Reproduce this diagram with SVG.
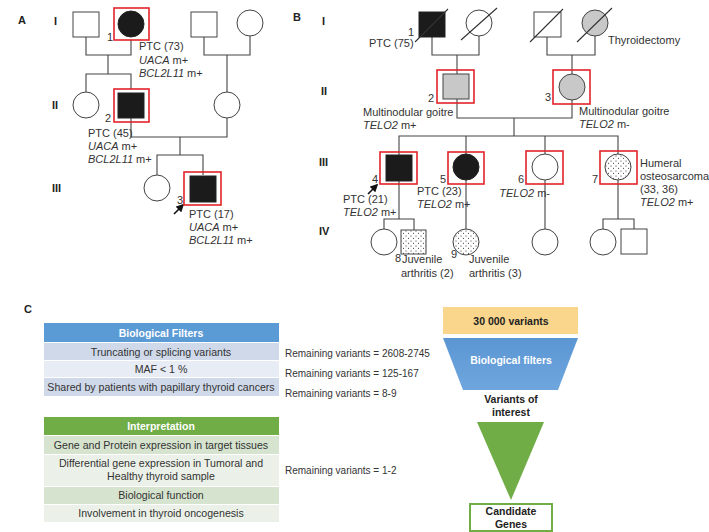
<svg xmlns="http://www.w3.org/2000/svg" width="709" height="532" viewBox="0 0 709 532">
<defs>
<pattern id="dots" width="5" height="5" patternUnits="userSpaceOnUse">
<rect width="5" height="5" fill="#fff"/>
<circle cx="1" cy="1" r="0.55" fill="#222"/>
<circle cx="3.5" cy="3.2" r="0.55" fill="#222"/>
</pattern>
<linearGradient id="blueg" x1="0" y1="0" x2="0" y2="1">
<stop offset="0" stop-color="#5b96d3"/>
<stop offset="1" stop-color="#6fa6de"/>
</linearGradient>
<marker id="arr" viewBox="0 0 10 10" refX="8" refY="5" markerWidth="5" markerHeight="5" orient="auto">
<path d="M0,0 L10,5 L0,10 z" fill="#111"/>
</marker>
</defs>
<style>
.t{font-family:"Liberation Sans",Arial,sans-serif;font-size:11px;fill:#333}
.i{font-style:italic}
.b{font-family:"Liberation Sans",Arial,sans-serif;font-weight:bold;font-size:11px;fill:#222}
.c{font-family:"Liberation Sans",Arial,sans-serif;font-size:10px;fill:#333}
.cm{font-family:"Liberation Sans",Arial,sans-serif;font-size:10.6px;fill:#333;text-anchor:middle}
.hw{font-family:"Liberation Sans",Arial,sans-serif;font-size:10.5px;font-weight:bold;fill:#fff;text-anchor:middle}
.bk{font-family:"Liberation Sans",Arial,sans-serif;font-size:10.5px;font-weight:bold;fill:#222;text-anchor:middle}
.ln{stroke:#444;stroke-width:1.1;fill:none}
.sym{stroke:#444;stroke-width:1;fill:#fff}
.aff{stroke:#222;stroke-width:1;fill:#1b1b1b}
.gry{stroke:#444;stroke-width:1;fill:#c8c8c8}
.dot{stroke:#444;stroke-width:1;fill:url(#dots)}
.red{stroke:#e2242b;stroke-width:1.6;fill:none}
.sl{stroke:#333;stroke-width:1.1}
</style>
<rect width="709" height="532" fill="#fff"/>

<!-- labels -->
<text class="b" x="18" y="24" font-size="12">A</text>
<text class="b" x="54" y="25">I</text>
<text class="b" x="52" y="109">II</text>
<text class="b" x="52" y="192">III</text>
<text class="b" x="293" y="21" font-size="12">B</text>
<text class="b" x="322" y="25">I</text>
<text class="b" x="321" y="95">II</text>
<text class="b" x="319" y="166">III</text>
<text class="b" x="319" y="235">IV</text>
<text class="b" x="24" y="313" font-size="12">C</text>

<g id="connectors">
<!-- A -->
<path class="ln" d="M86,37V55H131V40M108,55V74M86,92V74H131V89"/>
<path class="ln" d="M204,37V55H250V36M227,55V92"/>
<path class="ln" d="M131,118V137H227V118M180,137V155M157,175V155H203V175"/>
<!-- B -->
<path class="ln" d="M432,37V55H479V36M457,55V74"/>
<path class="ln" d="M547,37V55H595V36M572,55V74"/>
<path class="ln" d="M457,99V118H572V100M514,118V136M399,155V136H618V154M466,136V154M545,136V154"/>
<path class="ln" d="M399,181V219M384,229V219H414V230"/>
<path class="ln" d="M466,180V229M545,180V229"/>
<path class="ln" d="M618,180V219M603,229V219H634V229"/>
<!-- proband arrows -->
<line x1="174" y1="214" x2="183" y2="205" stroke="#111" stroke-width="1.6" marker-end="url(#arr)"/>
<line x1="368" y1="194" x2="377" y2="185" stroke="#111" stroke-width="1.6" marker-end="url(#arr)"/>
</g>

<!-- Panel A nodes -->
<g id="A-I1"><rect class="sym" x="73" y="12" width="26" height="25"/></g>
<g id="A-I2"><rect class="red" x="114" y="8" width="35" height="32"/><circle class="aff" cx="131" cy="24" r="13"/>
<text class="t" x="107" y="41">1</text>
<text class="t" x="139" y="50">PTC (73)</text>
<text class="t" x="139" y="63.5"><tspan class="i">UACA</tspan> m+</text>
<text class="t" x="139" y="77"><tspan class="i">BCL2L11</tspan> m+</text></g>
<g id="A-I3"><rect class="sym" x="191" y="12" width="26" height="25"/></g>
<g id="A-I4"><circle class="sym" cx="250" cy="23" r="13"/></g>
<g id="A-II1"><circle class="sym" cx="86" cy="105" r="13"/></g>
<g id="A-II2"><rect class="red" x="114" y="89" width="35" height="33"/><rect class="aff" x="118" y="93" width="26" height="25"/>
<text class="t" x="105" y="122">2</text>
<text class="t" x="88" y="137">PTC (45)</text>
<text class="t" x="88" y="150"><tspan class="i">UACA</tspan> m+</text>
<text class="t" x="88" y="163"><tspan class="i">BCL2L11</tspan> m+</text></g>
<g id="A-II3"><circle class="sym" cx="227" cy="105" r="13"/></g>
<g id="A-III1"><circle class="sym" cx="157" cy="188" r="13"/></g>
<g id="A-III2"><rect class="red" x="184" y="172" width="37" height="33"/><rect class="aff" x="190" y="176" width="26" height="26"/>
<text class="t" x="177" y="204">3</text>
<text class="t" x="189" y="218">PTC (17)</text>
<text class="t" x="189" y="231"><tspan class="i">UACA</tspan> m+</text>
<text class="t" x="189" y="244"><tspan class="i">BCL2L11</tspan> m+</text></g>

<!-- Panel B nodes -->
<g id="B-I1"><rect class="aff" x="419" y="12" width="26" height="25"/><line class="sl" x1="415" y1="42" x2="448" y2="9"/>
<text class="t" x="408" y="36">1</text>
<text class="t" x="369" y="47">PTC (75)</text></g>
<g id="B-I2"><circle class="sym" cx="479" cy="23" r="13"/><line class="sl" x1="461" y1="40" x2="497" y2="8"/></g>
<g id="B-I3"><rect class="sym" x="534" y="12" width="27" height="25"/><line class="sl" x1="530" y1="42" x2="563" y2="9"/></g>
<g id="B-I4"><circle class="gry" cx="595" cy="23" r="13"/><line class="sl" x1="577" y1="42" x2="612" y2="8"/>
<text class="t" x="608" y="44">Thyroidectomy</text></g>
<g id="B-II2"><rect class="red" x="437" y="70" width="37" height="33"/><rect class="gry" x="443" y="74" width="26" height="25"/>
<text class="t" x="428" y="102">2</text>
<text class="t" x="363" y="116">Multinodular goitre</text>
<text class="t" x="363" y="129"><tspan class="i">TELO2</tspan> m+</text></g>
<g id="B-II3"><rect class="red" x="553" y="70" width="37" height="34"/><circle class="gry" cx="572" cy="87" r="13"/>
<text class="t" x="545" y="101">3</text>
<text class="t" x="579" y="115">Multinodular goitre</text>
<text class="t" x="579" y="128"><tspan class="i">TELO2</tspan> m-</text></g>
<g id="B-III4"><rect class="red" x="380" y="152" width="37" height="32"/><rect class="aff" x="386" y="155" width="26" height="26"/>
<text class="t" x="372" y="183">4</text>
<text class="t" x="343" y="203">PTC (21)</text>
<text class="t" x="343" y="216"><tspan class="i">TELO2</tspan> m+</text></g>
<g id="B-III5"><rect class="red" x="448" y="152" width="36" height="32"/><circle class="aff" cx="466" cy="167" r="13"/>
<text class="t" x="440" y="183">5</text>
<text class="t" x="417" y="195">PTC (23)</text>
<text class="t" x="417" y="208"><tspan class="i">TELO2</tspan> m+</text></g>
<g id="B-III6"><rect class="red" x="526" y="151" width="37" height="33"/><circle class="sym" cx="545" cy="167" r="13"/>
<text class="t" x="518" y="183">6</text>
<text class="t" x="550" y="197" text-anchor="end"><tspan class="i">TELO2</tspan> m-</text></g>
<g id="B-III7"><rect class="red" x="600" y="151" width="37" height="33"/><circle class="dot" cx="618" cy="167" r="13"/>
<text class="t" x="592" y="183">7</text>
<text class="t" x="640" y="167">Humeral</text>
<text class="t" x="640" y="180">osteosarcoma</text>
<text class="t" x="640" y="193">(33, 36)</text>
<text class="t" x="640" y="206"><tspan class="i">TELO2</tspan> m+</text></g>
<g id="B-IV1"><circle class="sym" cx="384" cy="242" r="13"/></g>
<g id="B-IV8"><rect class="dot" x="401" y="230" width="25" height="24"/>
<text class="t" x="395" y="262">8</text>
<text class="t" x="402" y="263">Juvenile</text>
<text class="t" x="401" y="277">arthritis (2)</text></g>
<g id="B-IV9"><circle class="dot" cx="466" cy="242" r="13"/>
<text class="t" x="451" y="258">9</text>
<text class="t" x="469" y="263">Juvenile</text>
<text class="t" x="469" y="277">arthritis (3)</text></g>
<g id="B-IV10"><circle class="sym" cx="545" cy="242" r="13"/></g>
<g id="B-IV11"><circle class="sym" cx="603" cy="242" r="13"/></g>
<g id="B-IV12"><rect class="sym" x="621" y="229" width="26" height="25"/></g>

<!-- Panel C: filter table -->
<g id="filters-table">
<rect x="44" y="323" width="235" height="19" fill="#5b9bd5"/>
<text class="hw" x="161" y="337">Biological Filters</text>
<rect x="44" y="343" width="235" height="17" fill="#cfd9ea"/>
<text class="cm" x="161" y="355.5">Truncating or splicing variants</text>
<rect x="44" y="361" width="235" height="16" fill="#e8edf5"/>
<text class="cm" x="161" y="372.5">MAF &lt; 1 %</text>
<rect x="44" y="378" width="235" height="18" fill="#cfd9ea"/>
<text class="cm" x="161" y="390.5">Shared by patients with papillary thyroid cancers</text>
</g>
<g id="interp-table">
<rect x="44" y="417" width="235" height="18" fill="#70ad47"/>
<text class="hw" x="161" y="430">Interpretation</text>
<rect x="44" y="436" width="235" height="18" fill="#d6e4cf"/>
<text class="cm" x="161" y="448.5">Gene and Protein expression in target tissues</text>
<rect x="44" y="455" width="235" height="31" fill="#ebf1e8"/>
<text class="cm" x="161" y="466.5">Differential gene expression in Tumoral and</text>
<text class="cm" x="161" y="479.5">Healthy thyroid sample</text>
<rect x="44" y="487" width="235" height="17" fill="#d6e4cf"/>
<text class="cm" x="161" y="499">Biological function</text>
<rect x="44" y="505" width="235" height="17" fill="#ebf1e8"/>
<text class="cm" x="161" y="517">Involvement in thyroid oncogenesis</text>
</g>
<g id="remaining">
<text class="c" x="285" y="357">Remaining variants = 2608-2745</text>
<text class="c" x="285" y="377">Remaining variants = 125-167</text>
<text class="c" x="285" y="397">Remaining variants = 8-9</text>
<text class="c" x="285" y="474">Remaining variants = 1-2</text>
</g>
<g id="funnel">
<rect x="443" y="307" width="135" height="27" fill="#fad68c"/>
<text class="bk" x="511" y="325">30 000 variants</text>
<polygon points="443,338 578,338 558,390 463,390" fill="url(#blueg)"/>
<text class="hw" x="511" y="364" font-size="11.5">Biological filters</text>
<text class="bk" x="511" y="403">Variants of</text>
<text class="bk" x="511" y="416">interest</text>
<polygon points="477,422 544,422 511,500" fill="#70ad47"/>
<rect x="470" y="504" width="82" height="27" fill="#fff" stroke="#70ad47" stroke-width="2"/>
<text class="bk" x="511" y="515">Candidate</text>
<text class="bk" x="511" y="528">Genes</text>
</g>
</svg>
